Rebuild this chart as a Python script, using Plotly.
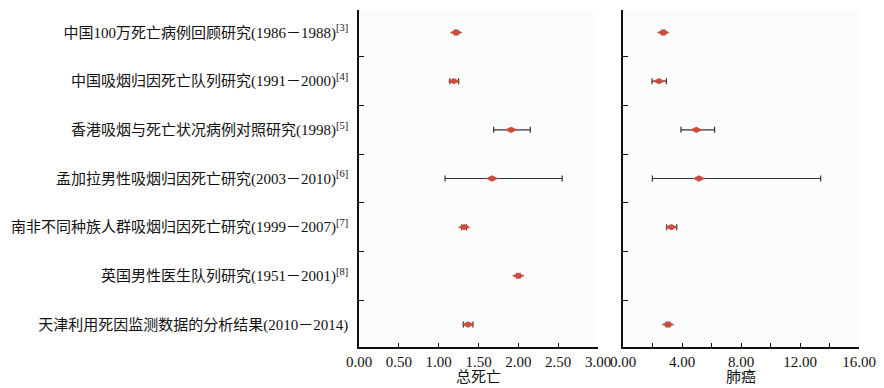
import plotly.graph_objects as go
from plotly.subplots import make_subplots

studies = [
    "中国100万死亡病例回顾研究(1986－1988)<sup>[3]</sup>",
    "中国吸烟归因死亡队列研究(1991－2000)<sup>[4]</sup>",
    "香港吸烟与死亡状况病例对照研究(1998)<sup>[5]</sup>",
    "孟加拉男性吸烟归因死亡研究(2003－2010)<sup>[6]</sup>",
    "南非不同种族人群吸烟归因死亡研究(1999－2007)<sup>[7]</sup>",
    "英国男性医生队列研究(1951－2001)<sup>[8]</sup>",
    "天津利用死因监测数据的分析结果(2010－2014)",
]

total_rr = [1.22, 1.19, 1.91, 1.67, 1.32, 2.00, 1.37]
total_lo = [1.20, 1.14, 1.69, 1.08, 1.29, 1.98, 1.31]
total_hi = [1.24, 1.25, 2.15, 2.55, 1.35, 2.02, 1.43]

lung_rr = [2.73, 2.44, 4.97, 5.15, 3.28, None, 3.05]
lung_lo = [2.62, 1.97, 3.93, 1.99, 2.96, None, 2.93]
lung_hi = [2.84, 2.94, 6.21, 13.40, 3.64, None, 3.17]

x_titles = ["总死亡", "肺癌"]

FONT = "Liberation Serif, Times New Roman, Noto Sans CJK SC, serif"
MARK = "#c9503f"
ERR = "#333333"

fig = make_subplots(rows=1, cols=2, shared_yaxes=True)

def add(col, rr, lo, hi):
    plus = [None if r is None else h - r for r, h in zip(rr, hi)]
    minus = [None if r is None else r - l for r, l in zip(rr, lo)]
    fig.add_trace(go.Scatter(
        x=rr, y=studies, mode="markers",
        marker=dict(symbol="diamond-wide", size=9, color=MARK),
        error_x=dict(type="data", symmetric=False, array=plus, arrayminus=minus,
                     color=ERR, thickness=1.2, width=3),
        showlegend=False,
    ), row=1, col=col)

add(1, total_rr, total_lo, total_hi)
add(2, lung_rr, lung_lo, lung_hi)

W, H = 884, 388
fig.update_layout(
    width=W, height=H,
    margin=dict(l=0, r=0, t=10, b=41, autoexpand=False),
    paper_bgcolor="white", plot_bgcolor="#fcfcfc",
    font=dict(family=FONT, size=15, color="#111"),
)

doms = [[359 / W, 598 / W], [623 / W, 859 / W]]
fig.update_xaxes(domain=doms[0], row=1, col=1)
fig.update_xaxes(domain=doms[1], row=1, col=2)

common_x = dict(showgrid=False, zeroline=False, showline=True, linecolor="#111",
                linewidth=1.5, ticks="inside", ticklen=4, tickcolor="#111",
                tickformat=".2f", tickfont=dict(size=15, family=FONT),
                automargin=False)
fig.update_xaxes(range=[0, 3], dtick=0.5, tick0=0, row=1, col=1, **common_x)
fig.update_xaxes(range=[0, 16], dtick=4, tick0=0,
                 minor=dict(dtick=2, ticks="inside", ticklen=4, tickcolor="#111"),
                 row=1, col=2, **common_x)

for i, t in enumerate(x_titles):
    fig.add_annotation(text=t, xref="paper", yref="paper",
                       x=(doms[i][0] + doms[i][1]) / 2, y=-(377 - 347) / (347 - 10),
                       yanchor="middle", xanchor="center", showarrow=False,
                       font=dict(size=15, family=FONT))

common_y = dict(type="category", categoryorder="array", categoryarray=studies,
                autorange="reversed", showgrid=False, zeroline=False, showline=True,
                linecolor="#111", linewidth=1.5, ticks="inside", ticklen=5,
                tickcolor="#111", tickson="boundaries", automargin=False)
fig.update_yaxes(row=1, col=1, ticklabelstandoff=6,
                 tickfont=dict(size=15, family=FONT), **common_y)
fig.update_yaxes(row=1, col=2, showticklabels=False, **common_y)

fig.write_html("out.html", config={"displayModeBar": False},
               post_script="document.body.style.margin='0';document.body.style.overflow='hidden';")
